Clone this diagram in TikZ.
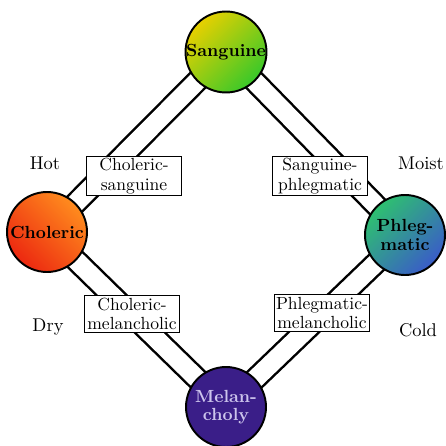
\documentclass[tikz,border=0pt]{standalone}
\usepackage{xcolor}
\usepackage{tikz}
\usetikzlibrary{backgrounds}
\definecolor{sang1}{HTML}{E8D000}
\definecolor{sang2}{HTML}{38C82A}
\definecolor{chol1}{HTML}{FF8C1E}
\definecolor{chol2}{HTML}{EC2810}
\definecolor{phleg1}{HTML}{2EC070}
\definecolor{phleg2}{HTML}{3A5CC8}
\definecolor{mel1}{HTML}{3A1E88}
\definecolor{mel2}{HTML}{CCC4EC}

\begin{document}
\begin{tikzpicture}[
    x=0.02cm, y=-0.02cm,
    humour/.style={circle, draw, line width=1.1pt, minimum size=1.6cm,
                   inner sep=0pt, align=center,
                   font=\bfseries\fontsize{10}{10.5}\selectfont},
    mix/.style={draw, fill=white, line width=0.5pt, minimum width=1.9cm,
                minimum height=0.74cm, inner sep=1pt, align=center,
                font=\fontsize{10}{11}\selectfont},
    quality/.style={font=\fontsize{10.5}{12}\selectfont},
    link/.style={draw, line width=1.4pt, double=white, double distance=0.37cm},
]
\useasboundingbox (0,0) rectangle (446,446);

% the four humours
\node[humour, top color=sang1, bottom color=sang2, shading angle=45]
    (sang) at (226,52) {Sanguine};
\node[humour, top color=chol1, bottom color=chol2, shading angle=-45]
    (chol) at (47,232) {Choleric};
\node[humour, top color=phleg1, bottom color=phleg2, shading angle=45]
    (phleg) at (405,235) {Phleg-\\matic};
\node[humour, fill=mel1, text=mel2]
    (mel) at (226,407) {Melan-\\choly};

% double links between humours
\begin{scope}[on background layer]
\path[link] (sang.center) -- (chol.center);
\path[link] (sang.center) -- (phleg.center);
\path[link] (chol.center) -- (mel.center);
\path[link] (phleg.center) -- (mel.center);
\end{scope}

% mixed temperaments
\node[mix] (cs) at (134,176) {Choleric-\\sanguine};
\node[mix] (sp) at (320,176) {Sanguine-\\phlegmatic};
\node[mix] (cm) at (132,314) {Choleric-\\melancholic};
\node[mix] (pm) at (322,313) {Phlegmatic-\\melancholic};

% qualities
\node[quality] (hot) at (45,163) {Hot};
\node[quality] (moist) at (421,163) {Moist};
\node[quality] (dry) at (48,327) {Dry};
\node[quality] (cold) at (418,330) {Cold};
\end{tikzpicture}
\end{document}
